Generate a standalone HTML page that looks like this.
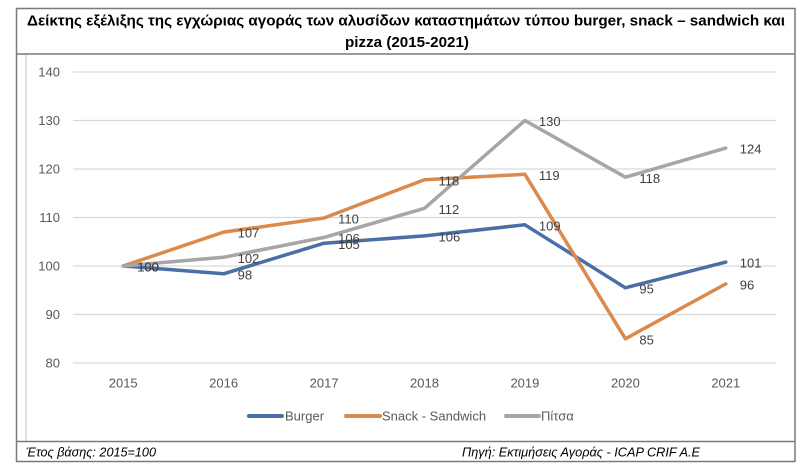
<!DOCTYPE html>
<html>
<head>
<meta charset="utf-8">
<style>
html,body{margin:0;padding:0;background:#fff;}
svg{display:block;}
text{font-family:"Liberation Sans", "DejaVu Sans", sans-serif;}
</style>
</head>
<body>
<svg width="810" height="474" viewBox="0 0 810 474" xmlns="http://www.w3.org/2000/svg">
<rect x="0" y="0" width="810" height="474" fill="#fff"/>
<!-- chart area light border -->
<line x1="26" y1="54" x2="26" y2="441" stroke="#d9d9d9" stroke-width="1.5"/>
<!-- outer frame -->
<rect x="16.5" y="8.5" width="778.5" height="453" fill="none" stroke="#7a7a7a" stroke-width="1.5"/>
<line x1="16.5" y1="54" x2="795" y2="54" stroke="#7a7a7a" stroke-width="1.5"/>
<line x1="16.5" y1="441.5" x2="795" y2="441.5" stroke="#7a7a7a" stroke-width="1.5"/>

<!-- title -->
<text x="27" y="25.5" font-size="15" font-weight="bold" fill="#000" textLength="758" lengthAdjust="spacingAndGlyphs">Δείκτης εξέλιξης της εγχώριας αγοράς των αλυσίδων καταστημάτων τύπου burger, snack – sandwich και</text>
<text x="345" y="47" font-size="15" font-weight="bold" fill="#000" textLength="124" lengthAdjust="spacingAndGlyphs">pizza (2015-2021)</text>

<!-- gridlines -->
<g stroke="#d9d9d9" stroke-width="1.2">
<line x1="73" y1="72" x2="776" y2="72"/>
<line x1="73" y1="120.5" x2="776" y2="120.5"/>
<line x1="73" y1="169" x2="776" y2="169"/>
<line x1="73" y1="217.5" x2="776" y2="217.5"/>
<line x1="73" y1="266" x2="776" y2="266"/>
<line x1="73" y1="314.5" x2="776" y2="314.5"/>
<line x1="73" y1="363" x2="776" y2="363"/>
</g>

<!-- y axis labels -->
<g font-size="13" fill="#595959" text-anchor="end">
<text x="60" y="76.6">140</text>
<text x="60" y="125.1">130</text>
<text x="60" y="173.6">120</text>
<text x="60" y="222.1">110</text>
<text x="60" y="270.6">100</text>
<text x="60" y="319.1">90</text>
<text x="60" y="367.6">80</text>
</g>

<!-- x axis labels -->
<g font-size="13" fill="#595959" text-anchor="middle">
<text x="123.2" y="387.6">2015</text>
<text x="223.6" y="387.6">2016</text>
<text x="324.1" y="387.6">2017</text>
<text x="424.5" y="387.6">2018</text>
<text x="524.9" y="387.6">2019</text>
<text x="625.4" y="387.6">2020</text>
<text x="725.8" y="387.6">2021</text>
</g>

<!-- series -->
<g fill="none" stroke-width="3.5" stroke-linejoin="round" stroke-linecap="round">
<polyline stroke="#4a6fa6" points="123.2,266 223.6,273.8 324.1,243.2 424.5,235.9 524.9,224.8 625.4,287.8 725.8,262.1"/>
<polyline stroke="#db8a4c" points="123.2,266 223.6,232.1 324.1,218 424.5,179.7 524.9,174.3 625.4,338.8 725.8,283.9"/>
<polyline stroke="#a6a6a6" points="123.2,266 223.6,257.3 324.1,237.4 424.5,208.3 524.9,120.5 625.4,177.2 725.8,148.1"/>
</g>

<!-- data labels -->
<g font-size="13" fill="#404040">
<text x="137.2" y="271.6">100</text>
<text x="237.6" y="279.4">98</text>
<text x="338.1" y="248.8">105</text>
<text x="438.5" y="241.5">106</text>
<text x="538.9" y="230.4">109</text>
<text x="639.4" y="293.4">95</text>
<text x="739.8" y="267.7">101</text>

<text x="137.2" y="271.6">100</text>
<text x="237.6" y="237.7">107</text>
<text x="338.1" y="223.6">110</text>
<text x="438.5" y="185.3">118</text>
<text x="538.9" y="179.9">119</text>
<text x="639.4" y="344.4">85</text>
<text x="739.8" y="289.5">96</text>

<text x="137.2" y="271.6">100</text>
<text x="237.6" y="262.9">102</text>
<text x="338.1" y="243">106</text>
<text x="438.5" y="213.9">112</text>
<text x="538.9" y="126.1">130</text>
<text x="639.4" y="182.8">118</text>
<text x="739.8" y="153.7">124</text>
</g>

<!-- legend -->
<g stroke-width="4" stroke-linecap="round">
<line x1="249" y1="416" x2="282" y2="416" stroke="#4a6fa6"/>
<line x1="346" y1="416" x2="380" y2="416" stroke="#db8a4c"/>
<line x1="506" y1="416" x2="539" y2="416" stroke="#a6a6a6"/>
</g>
<g font-size="13" fill="#595959">
<text x="285" y="420.6">Burger</text>
<text x="382" y="420.6">Snack - Sandwich</text>
<text x="541" y="420.6">Πίτσα</text>
</g>

<!-- footer -->
<g font-size="13" font-style="italic" fill="#000">
<text x="26" y="456.5" textLength="130" lengthAdjust="spacingAndGlyphs">Έτος βάσης: 2015=100</text>
<text x="462" y="456.5" textLength="238" lengthAdjust="spacingAndGlyphs">Πηγή: Εκτιμήσεις Αγοράς - ICAP CRIF A.E</text>
</g>
</svg>
</body>
</html>
